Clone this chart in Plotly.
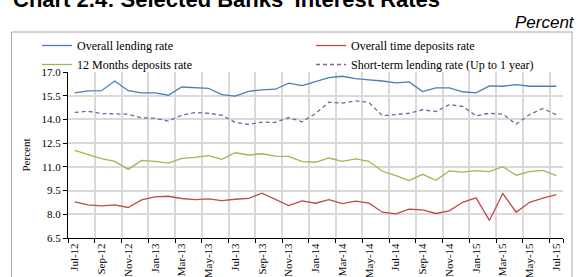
import plotly.graph_objects as go

months = ["Jul-12","Aug-12","Sep-12","Oct-12","Nov-12","Dec-12",
          "Jan-13","Feb-13","Mar-13","Apr-13","May-13","Jun-13",
          "Jul-13","Aug-13","Sep-13","Oct-13","Nov-13","Dec-13",
          "Jan-14","Feb-14","Mar-14","Apr-14","May-14","Jun-14",
          "Jul-14","Aug-14","Sep-14","Oct-14","Nov-14","Dec-14",
          "Jan-15","Feb-15","Mar-15","Apr-15","May-15","Jun-15","Jul-15"]

overall_lending = [15.68,15.80,15.82,16.43,15.82,15.68,15.68,15.53,16.05,16.01,15.97,15.57,
                   15.47,15.78,15.87,15.91,16.29,16.14,16.39,16.64,16.73,16.58,16.50,16.43,
                   16.31,16.37,15.76,15.99,15.99,15.75,15.68,16.12,16.10,16.20,16.10,16.08,16.10]

overall_time_dep = [8.79,8.60,8.53,8.60,8.43,8.91,9.10,9.14,9.00,8.93,8.97,8.87,
                    8.95,9.00,9.34,8.93,8.55,8.85,8.70,8.93,8.68,8.83,8.70,8.13,
                    8.03,8.32,8.28,8.05,8.22,8.76,9.04,7.61,9.31,8.13,8.76,9.02,9.25]

twelve_month_dep = [12.04,11.79,11.52,11.35,10.84,11.41,11.35,11.24,11.54,11.60,11.71,11.47,
                    11.89,11.75,11.83,11.68,11.66,11.33,11.29,11.56,11.35,11.50,11.35,10.72,
                    10.45,10.13,10.53,10.15,10.74,10.67,10.76,10.70,11.01,10.47,10.70,10.78,10.45]

short_term_lending = [14.44,14.52,14.37,14.35,14.33,14.10,14.08,13.89,14.27,14.44,14.39,14.27,
                      13.81,13.68,13.83,13.81,14.12,13.85,14.37,15.09,15.03,15.17,15.07,14.23,
                      14.29,14.39,14.61,14.50,14.94,14.82,14.23,14.39,14.33,13.70,14.31,14.69,14.29]

y_ticks = [6.5, 8.0, 9.5, 11.0, 12.5, 14.0, 15.5, 17.0]

serif = "Liberation Serif, Times New Roman, serif"

fig = go.Figure()
series = [
    ("Overall lending rate", overall_lending, "#4a7ebb", "solid"),
    ("Overall time deposits rate", overall_time_dep, "#be4b48", "solid"),
    ("12 Months deposits rate", twelve_month_dep, "#98b954", "solid"),
    ("Short-term lending rate (Up to 1 year)", short_term_lending, "#7d60a0", "4px,3px"),
]
for name, vals, col, dash in series:
    fig.add_trace(go.Scatter(x=months, y=vals, name=name, mode="lines",
                             line=dict(color=col, width=1.3, dash=dash)))

L, R, T, B = 68, 17, 72, 39
W, H = 580, 277
pw, ph = W - L - R, H - T - B

def px_x(x):
    return (x - L) / pw

def px_y(y):
    return (H - B - y) / ph

fig.update_layout(
    width=W, height=H,
    margin=dict(l=L, r=R, t=T, b=B, autoexpand=False),
    paper_bgcolor="white", plot_bgcolor="white",
    showlegend=True,
    legend=dict(orientation="h", x=px_x(37), y=px_y(31), xanchor="left", yanchor="top",
                entrywidth=229, itemwidth=30, font=dict(family=serif, size=12, color="#000"),
                tracegroupgap=0, bgcolor="rgba(0,0,0,0)"),
    xaxis=dict(type="category", categoryorder="array", categoryarray=months,
               range=[-0.5, 36.5], tickmode="array", tickvals=months[::2],
               tickson="boundaries", ticks="outside", ticklen=4, tickcolor="#000",
               tickangle=-90, showgrid=True, gridcolor="#d9d9d9", gridwidth=1.5,
               showline=True, linecolor="#000", linewidth=1,
               tickfont=dict(family=serif, size=11, color="#000"), zeroline=False),
    yaxis=dict(range=[6.5, 17.0], tickmode="array", tickvals=y_ticks,
               tickformat=".1f", ticks="outside", ticklen=4, tickcolor="#000",
               showgrid=True, gridcolor="#d9d9d9", gridwidth=1.5,
               showline=True, linecolor="#000", linewidth=1, zeroline=False,
               tickfont=dict(family=serif, size=11, color="#000"),
               title=dict(text="Percent", font=dict(family=serif, size=11, color="#000"), standoff=8)),
)

fig.add_shape(type="rect", xref="paper", yref="paper",
              x0=px_x(11.5), x1=px_x(572), y0=px_y(290), y1=px_y(32),
              line=dict(color="#a6a6a6", width=1), fillcolor="rgba(0,0,0,0)", layer="below")

fig.add_annotation(text="<b>Chart 2.4: Selected Banks' Interest Rates</b>", xref="paper", yref="paper",
                   x=px_x(11), y=px_y(-1), xanchor="left", yanchor="middle", showarrow=False,
                   font=dict(family="Liberation Sans, Arial, sans-serif", size=22, color="#000"))
fig.add_annotation(text="<i>Percent</i>", xref="paper", yref="paper",
                   x=px_x(577), y=px_y(22), xanchor="right", yanchor="middle", showarrow=False,
                   font=dict(family="Liberation Sans, Arial, sans-serif", size=17, color="#000"))

fig.write_html("out.html", config={"displayModeBar": False},
               post_script="document.body.style.margin='0px';document.body.style.overflow='hidden';")
